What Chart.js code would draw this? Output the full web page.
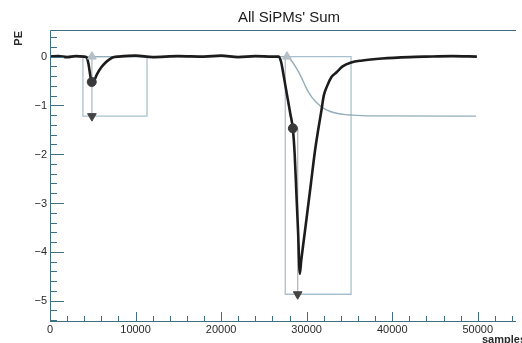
<!DOCTYPE html>
<html>
<head>
<meta charset="utf-8">
<script src="https://cdn.jsdelivr.net/npm/chart.js@4/dist/chart.umd.min.js"></script>
<style>
  html, body { margin: 0; padding: 0; background: #fff; }
  #wrap { width: 522px; height: 343px; position: relative; }
</style>
</head>
<body>
<div id="wrap"><canvas id="c" width="522" height="343"></canvas></div>
<script>
// ---- data ----
const titleText = "All SiPMs' Sum";
const yTitle = "PE";
const xTitle = "samples";

const xTicks = [0, 10000, 20000, 30000, 40000, 50000];
const yTicks = [0, -1, -2, -3, -4, -5];

// summed waveform (black)
const waveX = [0, 1000, 2000, 3000, 4000, 4300, 4500, 4700, 4850, 5000, 5200, 5500, 6000, 6500, 7000, 7500, 8000,
  10000, 12000, 15000, 18000, 20000, 22000, 24000, 26000, 26700, 27000, 27300, 27700, 28100, 28400, 28600, 28800,
  29000, 29200, 29350, 29600, 30000, 30500, 30960, 31350, 31730, 32000, 32400, 32900, 33500, 34200, 35200, 36500,
  38800, 42000, 44000, 47000, 49900];
const waveY = [0, 0.01, -0.01, 0.01, 0, -0.02, -0.15, -0.38, -0.52, -0.55, -0.48, -0.36, -0.22, -0.12, -0.05, -0.01, 0,
  0.02, -0.01, 0.01, 0, 0.02, -0.01, 0.01, 0, 0, -0.1, -0.38, -0.78, -1.18, -1.5, -2.0, -2.8,
  -3.6, -4.45, -4.2, -3.85, -3.3, -2.6, -1.95, -1.5, -1.1, -0.8, -0.6, -0.42, -0.32, -0.2, -0.12, -0.08,
  -0.04, -0.01, 0, 0.01, 0];

// running integral (grey)
const integX = [0, 27700, 28200, 28850, 29400, 30000, 30600, 31150, 31900, 32700, 33500, 34500, 35400, 37000, 49800];
const integY = [0, 0, -0.08, -0.25, -0.43, -0.66, -0.83, -0.94, -1.05, -1.12, -1.16, -1.19, -1.2, -1.215, -1.22];

// pulse windows
const boxStart = [3850, 27500];
const boxEnd = [11340, 35190];
const boxDepth = [-1.22, -4.87];

// pulse markers
const startX = [4900, 27700];
const startY = [0, 0];
const halfX = [4880, 28390];
const halfY = [-0.52, -1.47];
const peakX = [4900, 28950];
const peakY = [-1.22, -4.87];

// ---- build datasets ----
const toPts = (xs, ys) => xs.map((x, i) => ({ x: x, y: ys[i] }));
const boxColor = '#a9c1cf';
const axisColor = '#3e6f82';

const datasets = [];
datasets.push({ data: toPts(halfX, halfY), showLine: false, pointStyle: 'circle', pointRadius: 4.5,
  pointBackgroundColor: '#3a3a3a', pointBorderColor: '#3a3a3a', order: 0 });
datasets.push({ data: toPts(peakX, peakY), showLine: false, pointStyle: 'triangle', rotation: 180, pointRadius: 5,
  pointBackgroundColor: '#444', pointBorderColor: '#444', order: 0 });
datasets.push({ data: toPts(startX, startY), showLine: false, pointStyle: 'triangle', pointRadius: 5,
  pointBackgroundColor: '#b4bfc6', pointBorderColor: '#b4bfc6', order: 0 });
datasets.push({ data: toPts(waveX, waveY), borderColor: '#1c1c1c', borderWidth: 2.6, pointRadius: 0,
  cubicInterpolationMode: 'monotone', order: 1 });
datasets.push({ data: toPts(integX, integY), borderColor: '#93adbb', borderWidth: 1.4, pointRadius: 0,
  cubicInterpolationMode: 'monotone', order: 2 });
for (let i = 0; i < boxStart.length; i++) {
  datasets.push({ data: [
      { x: boxStart[i], y: 0 }, { x: boxStart[i], y: boxDepth[i] },
      { x: boxEnd[i], y: boxDepth[i] }, { x: boxEnd[i], y: 0 }, { x: boxStart[i], y: 0 }],
    borderColor: boxColor, borderWidth: 1.3, pointRadius: 0, tension: 0, order: 3 });
  datasets.push({ data: [{ x: peakX[i], y: i === 0 ? startY[i] : halfY[i] }, { x: peakX[i], y: peakY[i] }],
    borderColor: '#b0bcc4', borderWidth: 1.3, pointRadius: 0, tension: 0, order: 3 });
}

// ---- axes / frame plugin (ROOT style, ticks inside) ----
const rootAxes = {
  id: 'rootAxes',
  afterDraw(chart) {
    const ctx = chart.ctx;
    const xs = chart.scales.x, ys = chart.scales.y;
    const a = chart.chartArea;
    ctx.save();
    ctx.strokeStyle = axisColor;
    ctx.lineWidth = 1;
    ctx.beginPath();
    ctx.moveTo(a.left + 0.5, a.bottom + 0.5);
    ctx.lineTo(a.left + 0.5, a.top + 0.5);
    ctx.lineTo(a.right, a.top + 0.5);
    ctx.moveTo(a.left, a.bottom + 0.5);
    ctx.lineTo(a.right, a.bottom + 0.5);
    ctx.stroke();
    ctx.beginPath();
    for (let k = -27; k <= 2; k++) {
      const v = k * 0.2;
      const py = Math.round(ys.getPixelForValue(v)) + 0.5;
      const major = (k % 5 === 0);
      ctx.moveTo(a.left, py);
      ctx.lineTo(a.left + (major ? 14 : 7), py);
    }
    for (let k = 1; k <= 27; k++) {
      const v = k * 2000;
      const px = Math.round(xs.getPixelForValue(v)) + 0.5;
      if (px > a.right) break;
      const major = (k % 5 === 0);
      ctx.moveTo(px, a.bottom);
      ctx.lineTo(px, a.bottom - (major ? 9 : 5));
    }
    ctx.stroke();
    ctx.fillStyle = '#2a2a2a';
    ctx.font = '11px "Liberation Sans", Arial, sans-serif';
    ctx.textAlign = 'right';
    ctx.textBaseline = 'middle';
    yTicks.forEach(v => {
      const txt = v < 0 ? '\u2212' + Math.abs(v) : String(v);
      ctx.fillText(txt, a.left - 3, ys.getPixelForValue(v) + 0.5);
    });
    ctx.textAlign = 'center';
    ctx.textBaseline = 'top';
    xTicks.forEach(v => {
      ctx.fillText(String(v), xs.getPixelForValue(v), a.bottom + 3);
    });
    ctx.font = 'bold 11px "Liberation Sans", Arial, sans-serif';
    ctx.textAlign = 'left';
    ctx.textBaseline = 'alphabetic';
    ctx.fillText(xTitle, 482, 343);
    ctx.save();
    ctx.translate(22, 30);
    ctx.rotate(-Math.PI / 2);
    ctx.textAlign = 'right';
    ctx.fillText(yTitle, -1, 0);
    ctx.restore();
    ctx.font = '15px "Liberation Sans", Arial, sans-serif';
    ctx.fillStyle = '#1a1a1a';
    ctx.textAlign = 'center';
    ctx.fillText(titleText, 289, 21.5);
    ctx.restore();
  }
};

new Chart(document.getElementById('c'), {
  type: 'line',
  data: { datasets: datasets },
  options: {
    responsive: false,
    animation: false,
    devicePixelRatio: 1,
    layout: { padding: { left: 50, top: 30, right: 0, bottom: 22 } },
    plugins: { legend: { display: false }, tooltip: { enabled: false }, title: { display: false } },
    scales: {
      x: { type: 'linear', min: 0, max: 54470, display: false },
      y: { type: 'linear', min: -5.418, max: 0.545, display: false }
    }
  },
  plugins: [rootAxes]
});
</script>
</body>
</html>
